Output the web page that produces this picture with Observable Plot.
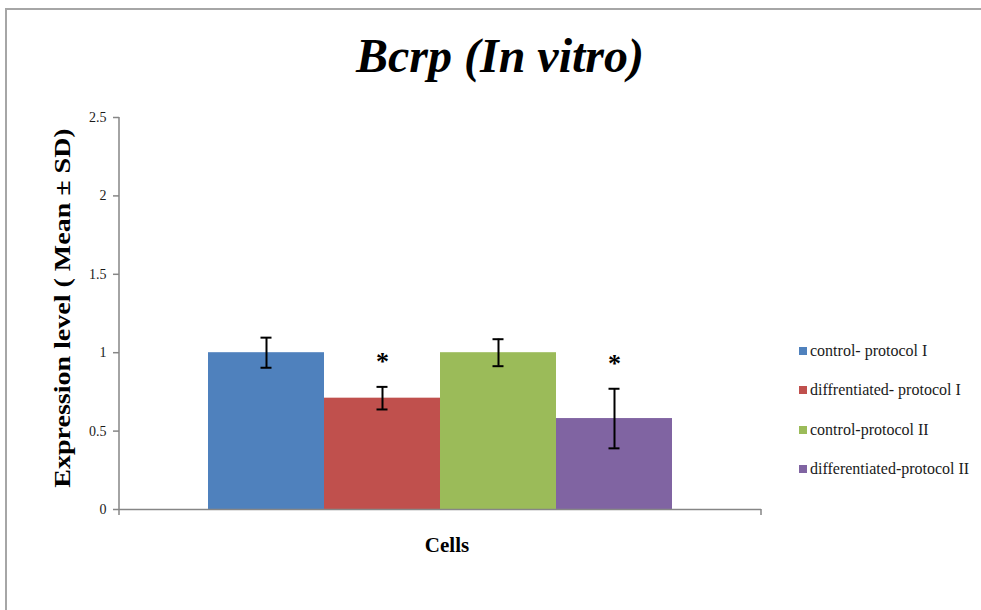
<!DOCTYPE html>
<html>
<head>
<meta charset="utf-8">
<script src="https://cdn.jsdelivr.net/npm/d3@7"></script>
<script src="https://cdn.jsdelivr.net/npm/@observablehq/plot@0.6"></script>
<style>
  html, body { margin: 0; padding: 0; background: #fff; }
  #wrap { position: relative; width: 981px; height: 610px; overflow: hidden; background: #fff; font-family: "Liberation Serif", "Times New Roman", serif; }
  #border { position: absolute; left: 5px; top: 8px; right: -10px; bottom: -10px; border-top: 2px solid #a6a6a6; border-left: 2px solid #a6a6a6; }
  #chart { position: absolute; left: 0; top: 0; }
  #chart svg text { font-family: "Liberation Serif", "Times New Roman", serif; }
  #title { position: absolute; left: 0; width: 1000px; top: 26px; text-align: center; font-size: 48px; font-weight: bold; font-style: italic; line-height: 60px; white-space: nowrap; color: #000; }
  #ylabel { position: absolute; left: 63px; top: 308px; transform: translate(-50%, -50%) rotate(-90deg) scaleY(0.82); font-size: 28px; font-weight: bold; white-space: nowrap; color: #000; }
  #xlabel { position: absolute; left: 447px; top: 545px; transform: translate(-50%, -50%); font-size: 21px; font-weight: bold; white-space: nowrap; color: #000; }
  #legend { position: absolute; left: 799px; top: 331px; font-size: 16px; color: #1a1a1a; }
  .li { display: flex; align-items: center; height: 39.5px; white-space: nowrap; }
  .sw { width: 8px; height: 8px; margin-right: 3px; flex: none; }
</style>
</head>
<body>
<div id="wrap">
  <div id="border"></div>
  <div id="chart"></div>
  <div id="title"></div>
  <div id="ylabel"></div>
  <div id="xlabel"></div>
  <div id="legend"></div>
</div>
<script>
const titleText = "Bcrp (In vitro)";
const yLabelText = "Expression level ( Mean ± SD)";
const xLabelText = "Cells";
const series = ["control- protocol I", "diffrentiated- protocol I", "control-protocol II", "differentiated-protocol II"];
const means = [1.0, 0.71, 1.0, 0.58];
const sds = [0.096, 0.072, 0.086, 0.19];
const significant = [false, true, false, true];
const colors = ["#4F81BD", "#C0504D", "#9BBB59", "#8064A2"];
const yTicks = [0, 0.5, 1, 1.5, 2, 2.5];

const rows = series.map((name, i) => ({name, mean: means[i], sd: sds[i], sig: significant[i]}));
const font = "Liberation Serif, Times New Roman, serif";

// custom mark: left axis line and end ticks of the x axis, from the plot's own dimensions
const axisFrame = (index, scales, values, dim) => {
  const g = d3.create("svg:g").attr("stroke", "#868686").attr("stroke-width", 1.5);
  const x0 = dim.marginLeft, x1 = dim.width - dim.marginRight;
  const y0 = dim.marginTop, y1 = dim.height - dim.marginBottom;
  g.append("line").attr("x1", x0).attr("x2", x0).attr("y1", y0).attr("y2", y1);
  g.append("line").attr("x1", x0).attr("x2", x0).attr("y1", y1).attr("y2", y1 + 6);
  g.append("line").attr("x1", x1).attr("x2", x1).attr("y1", y1).attr("y2", y1 + 6);
  return g.node();
};

const chart = Plot.plot({
  width: 981,
  height: 610,
  marginLeft: 119,
  marginRight: 220,
  marginTop: 117,
  marginBottom: 101,
  style: {background: "transparent", fontFamily: font},
  x: {domain: series, paddingInner: 0, paddingOuter: 0.755, axis: null},
  y: {domain: [0, 2.5], axis: null},
  color: {domain: series, range: colors},
  marks: [
    Plot.barY(rows, {x: "name", y: "mean", fill: "name"}),
    Plot.ruleY([0], {stroke: "#868686", strokeWidth: 1.5}),
    axisFrame,
    Plot.axisY({ticks: yTicks, tickSize: 6, tickPadding: 7, tickFormat: d => String(d), stroke: "#868686", strokeWidth: 1.5, fill: "#1a1a1a", fontSize: 14, fontFamily: font, label: null}),
    Plot.ruleX(rows, {x: "name", y1: d => d.mean - d.sd, y2: d => d.mean + d.sd, stroke: "#000", strokeWidth: 2}),
    Plot.tickY(rows, {x: "name", y: d => d.mean - d.sd, insetLeft: 52.5, insetRight: 52.5, stroke: "#000", strokeWidth: 2}),
    Plot.tickY(rows, {x: "name", y: d => d.mean + d.sd, insetLeft: 52.5, insetRight: 52.5, stroke: "#000", strokeWidth: 2}),
    Plot.text(rows.filter(d => d.sig), {x: "name", y: d => d.mean + d.sd, text: () => "*", dy: -25, fontSize: 26, fontWeight: "bold", fontFamily: font, fill: "#000", lineAnchor: "middle"})
  ]
});
document.getElementById("chart").appendChild(chart);
document.getElementById("title").textContent = titleText;
document.getElementById("ylabel").textContent = yLabelText;
document.getElementById("xlabel").textContent = xLabelText;
const legend = document.getElementById("legend");
series.forEach((s, i) => {
  const li = document.createElement("div");
  li.className = "li";
  const sw = document.createElement("span");
  sw.className = "sw";
  sw.style.background = colors[i];
  const t = document.createElement("span");
  t.textContent = s;
  li.appendChild(sw);
  li.appendChild(t);
  legend.appendChild(li);
});
</script>
</body>
</html>
